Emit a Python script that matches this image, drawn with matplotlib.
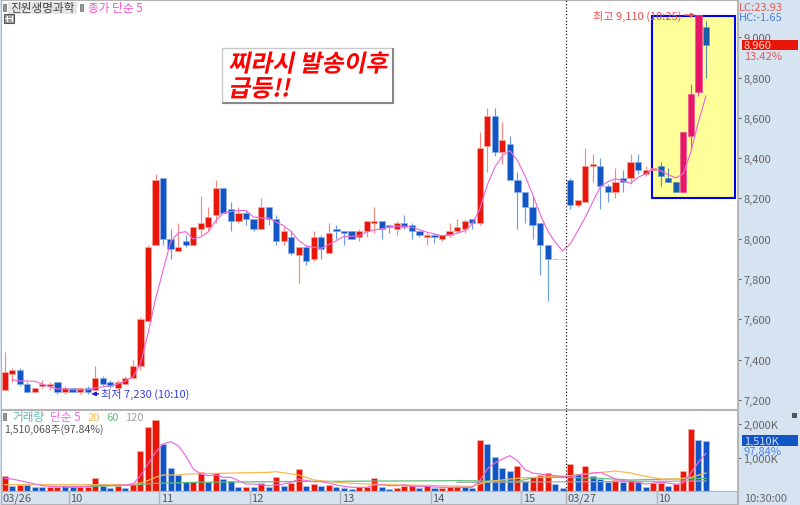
import numpy as np
import matplotlib
matplotlib.use('Agg')
import matplotlib.pyplot as plt
from matplotlib.patches import Rectangle
from matplotlib.patheffects import AbstractPathEffect
from matplotlib.ticker import FuncFormatter
from matplotlib.transforms import Affine2D

plt.rcParams['font.family'] = ['Noto Sans CJK KR', 'DejaVu Sans']

opens = [7250, 7330, 7350, 7280, 7240, 7270, 7270, 7290, 7240, 7260, 7240, 7260, 7250, 7310, 7290, 7260, 7280, 7310, 7370, 7590,
         7970, 8300, 8000, 7940, 7990, 7970, 8050, 8060, 8120, 8250, 8150, 8090, 8130, 8100, 8050, 8160, 8100, 7990, 8010, 7920,
         7960, 7900, 8010, 7930, 8050, 8040, 8040, 8010, 8040, 8080, 8090, 8070, 8050, 8080, 8070, 8040, 8010, 8020, 8000, 8020,
         8040, 8050, 8100, 8080, 8460, 8610, 8430, 8470, 8290, 8230, 8160, 8080, 7970, 7900, 7900, 8290, 8170, 8180, 8360, 8360,
         8260, 8230, 8300, 8300, 8380, 8320, 8340, 8360, 8300, 8280, 8230, 8510, 8730, 9050]
closes = [7340, 7350, 7280, 7240, 7260, 7280, 7280, 7240, 7260, 7240, 7260, 7240, 7310, 7280, 7270, 7290, 7310, 7370, 7600, 7960,
          8290, 8000, 7950, 7960, 7970, 8060, 8080, 8110, 8250, 8130, 8090, 8130, 8100, 8050, 8160, 8100, 7990, 8040, 7930, 7960,
          7890, 8010, 7950, 8030, 8040, 8030, 8000, 8040, 8090, 8090, 8050, 8060, 8080, 8060, 8040, 8020, 8020, 8010, 8020, 8040,
          8060, 8090, 8080, 8450, 8610, 8430, 8490, 8290, 8230, 8160, 8070, 7970, 7900, 7900, 7900, 8170, 8190, 8360, 8370, 8260,
          8230, 8280, 8280, 8380, 8340, 8340, 8350, 8310, 8280, 8230, 8530, 8720, 9110, 8960]
highs = [7440, 7360, 7360, 7290, 7260, 7300, 7290, 7290, 7270, 7260, 7260, 7270, 7370, 7320, 7300, 7300, 7320, 7400, 7610, 7970,
         8320, 8300, 8050, 8080, 8020, 8060, 8210, 8160, 8290, 8250, 8180, 8160, 8140, 8100, 8200, 8160, 8120, 8060, 8040, 7960,
         7970, 8040, 8020, 8080, 8070, 8040, 8040, 8050, 8090, 8160, 8090, 8070, 8090, 8120, 8080, 8040, 8030, 8030, 8020, 8080,
         8100, 8100, 8100, 8530, 8650, 8650, 8580, 8510, 8330, 8230, 8210, 8080, 7970, 7900, 7900, 8300, 8190, 8450, 8420, 8400,
         8270, 8350, 8340, 8420, 8420, 8360, 8350, 8380, 8350, 8280, 8530, 8770, 9110, 9080]
lows = [7250, 7290, 7270, 7240, 7240, 7260, 7250, 7230, 7230, 7240, 7230, 7230, 7250, 7270, 7260, 7250, 7280, 7310, 7350, 7590,
        7970, 7970, 7900, 7940, 7960, 7970, 8020, 8040, 8080, 8130, 8040, 8080, 8070, 8040, 8050, 8070, 7970, 7970, 7920, 7780,
        7870, 7890, 7900, 7930, 8000, 7970, 8000, 7990, 8010, 8030, 8000, 8030, 8020, 8050, 8000, 8010, 7970, 7980, 7990, 8010,
        8030, 8030, 8050, 8070, 8330, 8410, 8370, 8290, 8050, 8080, 8000, 7820, 7690, 7900, 7900, 8150, 8160, 8180, 8280, 8150,
        8180, 8200, 8230, 8270, 8320, 8310, 8340, 8260, 8280, 8230, 8230, 8450, 8710, 8800]
close_ma5 = [np.nan, 7300, 7294, 7294, 7292, 7279, 7265, 7255, 7255, 7251, 7250, 7250, 7260, 7265, 7270, 7279, 7294, 7314, 7379, 7528,
             7701, 7842, 7984, 8029, 8035, 7999, 8009, 8034, 8090, 8128, 8135, 8140, 8140, 8108, 8103, 8103, 8083, 8065, 8035, 7991,
             7964, 7958, 7953, 7971, 7991, 8012, 8012, 8015, 8034, 8044, 8049, 8059, 8062, 8062, 8057, 8045, 8032, 8024, 8015, 8019,
             8027, 8040, 8073, 8148, 8267, 8355, 8412, 8437, 8388, 8313, 8222, 8123, 8040, 7983, 7940, 7974, 8039, 8108, 8184, 8259,
             8283, 8297, 8288, 8275, 8305, 8322, 8346, 8338, 8317, 8302, 8322, 8431, 8580, 8709]

volume = [440, 150, 190, 180, 120, 130, 130, 110, 140, 110, 110, 130, 380, 160, 80, 140, 100, 250, 1200, 1920,
          2130, 1400, 700, 470, 260, 260, 560, 260, 530, 360, 310, 130, 130, 130, 250, 130, 420, 140, 240, 650,
          160, 220, 140, 190, 120, 90, 60, 120, 120, 390, 120, 70, 100, 160, 180, 80, 180, 80, 80, 120,
          120, 120, 100, 1540, 1420, 1030, 690, 610, 750, 300, 420, 480, 550, 210, 80, 800, 500, 760, 440, 360,
          260, 330, 260, 330, 280, 130, 240, 240, 150, 210, 600, 1860, 1540, 1510]
volume_up = [1, 0, 1, 0, 0, 0, 1, 1, 0, 0, 1, 1, 1, 0, 0, 1, 0, 1, 1, 1,
             1, 0, 0, 0, 0, 1, 1, 0, 1, 0, 0, 0, 1, 0, 1, 0, 1, 0, 1, 1,
             0, 1, 0, 1, 0, 0, 0, 1, 1, 1, 0, 0, 1, 1, 1, 0, 1, 0, 1, 1,
             1, 0, 0, 1, 0, 0, 0, 0, 1, 0, 1, 1, 1, 0, 0, 1, 0, 1, 0, 0,
             0, 1, 0, 1, 0, 0, 1, 1, 0, 1, 1, 1, 0, 0]
volume_ma5 = [380, 360, 310, 260, 210, 160, 140, 130, 130, 130, 130, 140, 170, 170, 160, 170, 180, 200, 460, 810,
              1160, 1410, 1480, 1360, 1060, 660, 510, 460, 480, 410, 410, 310, 210, 210, 190, 160, 180, 210, 260, 360,
              310, 280, 280, 240, 180, 140, 110, 110, 110, 180, 180, 160, 160, 180, 140, 140, 140, 120, 110, 110,
              110, 110, 110, 310, 660, 840, 960, 1060, 910, 640, 540, 510, 480, 460, 440, 410, 480, 510, 540, 560,
              460, 360, 310, 280, 260, 210, 240, 260, 240, 200, 240, 540, 860, 1130]

ma20_bars = [0, 17, 18, 19, 20, 21, 23, 24, 35, 36, 39, 41, 44, 47, 53, 62, 63, 64, 67, 69, 74, 77, 81, 83, 85, 87, 89, 91, 93]
ma20_vals = [190, 190, 240, 310, 410, 480, 480, 510, 560, 580, 480, 330, 260, 220, 180, 140, 210, 280, 360, 400, 440, 510, 600, 540, 440, 360, 360, 410, 540]
ma60_bars = [8, 17, 20, 25, 35, 60, 68, 70, 74, 79, 83, 93]
ma60_vals = [110, 180, 230, 260, 280, 310, 290, 400, 410, 380, 330, 380]
ma120_bars = [60, 70, 93]
ma120_vals = [260, 270, 300]

hour_bars = [-0.5, 8.5, 20.5, 32.5, 44.5, 56.5, 68.5, 74.5, 86.5]
hour_labels = ['03/26', '10', '11', '12', '13', '14', '15', '03/27', '10']
price_ticks = [7200, 7400, 7600, 7800, 8000, 8200, 8400, 8600, 8800, 9000]
volume_ticks = [1000, 2000]

W, H = 800, 506
RED, BLUE = '#e8170a', '#1156c4'
GRID = '#b4b4b4'


class Slant(AbstractPathEffect):
    # matplotlib has no synthetic italic, shear the glyphs around their baseline
    def draw_path(self, renderer, gc, tpath, affine, rgbFace=None):
        m = affine.get_matrix()
        shear = Affine2D().translate(-m[0, 2], -m[1, 2]).skew_deg(12, 0).translate(m[0, 2], m[1, 2])
        renderer.draw_path(gc, tpath, affine + shear, rgbFace)


def axes_px(x0, y0, x1, y1):
    return fig.add_axes([x0 / W, 1 - y1 / H, (x1 - x0) / W, (y1 - y0) / H])


def box(x0, y0, x1, y1, **kw):
    fig.add_artist(Rectangle((x0 / W, 1 - y1 / H), (x1 - x0) / W, (y1 - y0) / H,
                             transform=fig.transFigure, **kw))


def label(x, y, s, **kw):
    kw.setdefault('va', 'center')
    kw.setdefault('fontsize', 8)
    return fig.text(x / W, 1 - y / H, s, **kw)


fig = plt.figure(figsize=(W / 100, H / 100), dpi=100, facecolor='#d6e3f1')
ax = axes_px(1, 1, 738, 410)
ax_vol = axes_px(1, 411, 738, 492)
ax_time = axes_px(1, 492, 738, 505)

bars = np.arange(len(opens))
xlim = (-0.49, 97.25)
for a in (ax, ax_vol, ax_time):
    a.set_xlim(*xlim)
    a.set_xticks([])
    for s in a.spines.values():
        s.set_color(GRID)
    a.spines['right'].set_linewidth(1.4)
ax.set_ylim(7155, 9185)
ax_vol.set_ylim(0, 2430)
ax_time.set_ylim(0, 1)
ax_time.set_yticks([])
ax_time.set_facecolor('#d6e3f1')

# highlighted area
ax.add_patch(Rectangle((85.8, 8202), 11.06, 902, fc='#ffff99', ec='#0000f0', lw=1.5, zorder=1))

# candles
for i in bars:
    up = closes[i] > opens[i]
    inside = i >= 87
    if inside:
        body, wick, edge = ('#e6166b', '#ee5590', '#ee5590') if up else ('#155fa8', '#5a8fa8', '#6a9ac0')
    else:
        body, wick, edge = (RED, '#f58a80', '#f8a8a0') if up else (BLUE, '#6c9ce4', '#8ab0ec')
    ax.vlines(i, lows[i], highs[i], color=wick, lw=0.85, zorder=2)
    ax.bar(i, abs(closes[i] - opens[i]), bottom=min(opens[i], closes[i]), width=0.82,
           color=body, edgecolor=edge, lw=0.5, zorder=3)
ax.plot(bars, close_ma5, color='#ee6ada', lw=0.85, zorder=4)
ax.axvline(74.5, color='#222222', ls=':', lw=0.9, zorder=5)

ax.yaxis.tick_right()
ax.set_yticks(price_ticks)
ax.yaxis.set_major_formatter(FuncFormatter(lambda v, p: f'{v:,.0f}'))
ax.tick_params(axis='y', length=2.5, width=0.8, color='#666666', labelcolor='#666666', labelsize=8, pad=1.5)

ax.annotate('최저 7,230 (10:10)', xy=(11.5, 7230), xytext=(10, 0), textcoords='offset pixels',
            color='#3a3ee8', fontsize=8, va='center', zorder=6,
            arrowprops=dict(arrowstyle='-|>', color='#1a1ae0', lw=1, mutation_scale=6, shrinkA=0, shrinkB=0))
ax.annotate('최고 9,110 (10:25)', xy=(91.6, 9110), xytext=(-14, 0), textcoords='offset pixels',
            color='#f04a4a', fontsize=8, va='center', ha='right', zorder=6,
            arrowprops=dict(arrowstyle='-|>', color='#f04a4a', lw=1, mutation_scale=6, shrinkA=0, shrinkB=0))

# volume pane
ax_vol.bar(bars, volume, width=0.8, color=[RED if u else BLUE for u in volume_up],
           edgecolor=['#f8b0a8' if u else '#a8c4f0' for u in volume_up], lw=0.5, zorder=2)
ax_vol.plot(ma120_bars, ma120_vals, color='#a8a8a8', lw=0.9, zorder=3)
ax_vol.plot(ma60_bars, ma60_vals, color='#5fc080', lw=0.9, zorder=3)
ax_vol.plot(ma20_bars, ma20_vals, color='#f8b850', lw=0.9, zorder=3)
ax_vol.plot(bars, volume_ma5, color='#ee6ada', lw=0.85, zorder=4)
ax_vol.axvline(74.5, color='#222222', ls=':', lw=0.9, zorder=5)
ax_vol.yaxis.tick_right()
ax_vol.set_yticks(volume_ticks)
ax_vol.yaxis.set_major_formatter(FuncFormatter(lambda v, p: f'{v / 1000:,.0f},000K'))
ax_vol.tick_params(axis='y', length=2.5, width=0.8, color='#666666', labelcolor='#666666', labelsize=8, pad=1.5)

# time strip
for b, s in zip(hour_bars, hour_labels):
    ax_time.axvline(b, color=GRID, lw=1)
    ax_time.text(b + 0.2, 0.45, s, color='#555555', fontsize=8, va='center', ha='left')
label(744, 499, '10:30:00', color='#666666')

# top left header
box(3, 5, 6, 12, fc='#999999', ec='#666666', lw=0.5)
box(8, 3, 76, 14, fc='#e6e6e6', ec='#dddddd', lw=0.5)
label(10, 8.5, '진원생명과학', color='#444444', fontsize=8.4)
box(80, 5, 83, 12, fc='#999999', ec='#666666', lw=0.5)
label(88, 8.5, '종가 단순 5', color='#ee55cc', fontsize=8.4)
box(4, 15, 14, 24, fc='#a0a0a0', ec='#555555', lw=0.8)
for gx in (7, 9.5, 12):
    box(gx, 17, gx + 0.6, 23, fc='white', ec='none')
box(5, 19, 13, 19.6, fc='white', ec='none')

# text note
box(222, 49, 393, 104, fc='white', ec='#c8c8c8', lw=1)
box(222, 103, 393, 104.5, fc='#888888', ec='none')
box(392, 49, 393.5, 104.5, fc='#888888', ec='none')
note = label(228, 78, '찌라시 발송이후\n급등!!', color='#ff0000', fontsize=17.2, fontweight='bold',
             linespacing=1.05, ha='left')
note.set_path_effects([Slant()])

# right side values
label(739, 8, 'LC:23.93', color='#e05a5a')
label(739, 18, 'HC:-1.65', color='#4f86d8')
box(742, 40.5, 798, 51, fc=RED, ec='none')
label(744, 46, '8,960', color='#ffd8d0')
label(744, 57, '13.42%', color='#e05a5a')
box(742, 436, 798, 446.5, fc=BLUE, ec='none')
label(744, 441.5, '1,510K', color='#c8daf8')
label(744, 452, '97.84%', color='#4f86e8')
box(792, 413.5, 797, 418.5, fc='#555555', ec='none')

# volume legend
box(3, 414, 6, 421, fc='#999999', ec='#666666', lw=0.5)
label(12, 418, '거래량', color='#60b8b0', fontsize=8.4)
label(50, 418, '단순 5', color='#ee6ada', fontsize=8.4)
label(88, 418, '20', color='#f8b850')
label(106, 418, '60', color='#5fc080')
label(125, 418, '120', color='#a0a0a0')
label(4, 429.5, '1,510,068주(97.84%)', color='#555555', fontsize=7.6)

fig.savefig('out.png', dpi=100, facecolor=fig.get_facecolor())
